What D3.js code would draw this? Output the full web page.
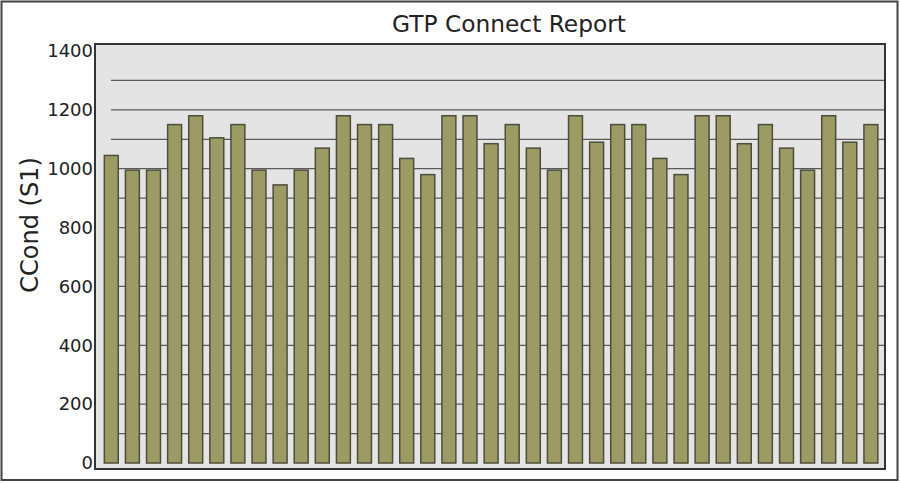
<!DOCTYPE html>
<html>
<head>
<meta charset="utf-8">
<script src="https://cdn.jsdelivr.net/npm/d3@7/dist/d3.min.js"></script>
<style>
  html, body { margin: 0; padding: 0; background: #ffffff; }
  svg { display: block; }
  text { font-family: "DejaVu Sans", Verdana, sans-serif; }
</style>
</head>
<body>
<svg id="chart" width="900" height="483"></svg>
<script>
const title = "GTP Connect Report";
const yTitle = "CCond (S1)";
const categories = d3.range(1, 38).map(String);
const values = [1045, 995, 995, 1150, 1180, 1105, 1150, 995, 945, 995, 1070, 1180, 1150, 1150,
                1035, 980, 1180, 1180, 1085, 1150, 1070, 995, 1180, 1090, 1150, 1150, 1035, 980,
                1180, 1180, 1085, 1150, 1070, 995, 1180, 1090, 1150];
const yTicks = [0, 200, 400, 600, 800, 1000, 1200, 1400];
const gridValues = [100, 200, 300, 400, 500, 600, 700, 800, 900, 1000, 1100, 1200, 1300];

const svg = d3.select("#chart");
const plot = { x0: 95, y0: 44, x1: 885, y1: 469 };

const x = d3.scaleBand().domain(categories).range([100.75, 881.45])
  .paddingInner(0.34).paddingOuter(0.17);
const y = d3.scaleLinear().domain([0, 1400]).range([463, 51]);

// outer frame
svg.append("rect").attr("x", 1.5).attr("y", 1.5).attr("width", 896).attr("height", 478.5)
  .attr("fill", "#fff").attr("stroke", "#444").attr("stroke-width", 2);

// plot background
svg.append("rect").attr("x", plot.x0).attr("y", plot.y0)
  .attr("width", plot.x1 - plot.x0).attr("height", plot.y1 - plot.y0)
  .attr("fill", "#e4e4e4");

// gridlines
svg.append("g").selectAll("line").data(gridValues).join("line")
  .attr("x1", 111).attr("x2", plot.x1)
  .attr("y1", d => y(d)).attr("y2", d => y(d))
  .attr("stroke", "#5a5a5a").attr("stroke-width", 1.2);

// bars
svg.append("g").selectAll("rect").data(values).join("rect")
  .attr("x", (d, i) => x(categories[i]))
  .attr("y", d => y(d))
  .attr("width", x.bandwidth())
  .attr("height", d => y(0) - y(d))
  .attr("fill", "#9b9b63")
  .attr("stroke", "#4d4d3d")
  .attr("stroke-width", 1.5);

// plot frame
svg.append("rect").attr("x", plot.x0).attr("y", plot.y0)
  .attr("width", plot.x1 - plot.x0).attr("height", plot.y1 - plot.y0)
  .attr("fill", "none").attr("stroke", "#333").attr("stroke-width", 2);

// y axis labels
const yAxis = d3.axisLeft(y).tickValues(yTicks).tickSize(0).tickPadding(2).tickFormat(d3.format("d"));
const gy = svg.append("g").attr("transform", `translate(${plot.x0},0)`).call(yAxis);
gy.select(".domain").remove();
gy.selectAll("text").attr("font-size", 18).attr("fill", "#222")
  .attr("font-family", "DejaVu Sans, Verdana, sans-serif");

// title
svg.append("text").attr("x", 509).attr("y", 31.5).attr("text-anchor", "middle")
  .attr("font-size", 23.3).attr("fill", "#222").text(title);

// y title
svg.append("text").attr("transform", "translate(37.5,225) rotate(-90)")
  .attr("text-anchor", "middle").attr("font-size", 24).attr("fill", "#222").text(yTitle);
</script>
</body>
</html>
